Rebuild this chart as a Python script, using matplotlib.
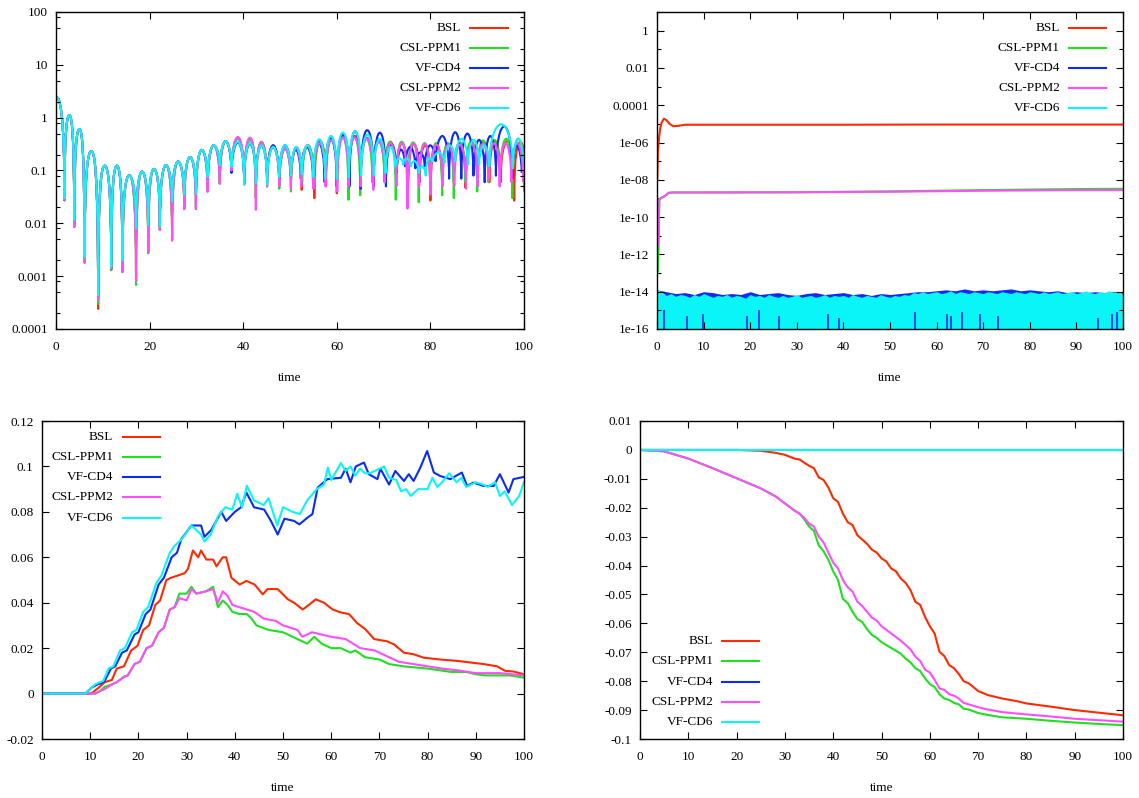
import numpy as np
import matplotlib
matplotlib.use("Agg")
import matplotlib.pyplot as plt
from matplotlib.path import Path
from matplotlib.patches import PathPatch
from matplotlib.lines import Line2D
from matplotlib.ticker import FixedLocator, FixedFormatter, NullFormatter

plt.rcParams['font.family'] = ['Liberation Serif', 'DejaVu Serif']
plt.rcParams['axes.unicode_minus'] = False

# ---------------- series / styles ----------------
labels = ['BSL', 'CSL-PPM1', 'VF-CD4', 'CSL-PPM2', 'VF-CD6']
colors = ['#ff2a00', '#1ee01e', '#0a2cf5', '#ff4dff', '#0af5f5']

# ---------------- panel 1 (log, oscillating) ----------------
p1_start_t = 0.0
p1_start_v = 2.5
p1_dip_t_early = [1.8, 3.9, 6.1, 9.0, 11.8, 14.2, 17.1, 19.7, 22.2, 24.8,
                  27.4, 29.9, 32.4, 35.0, 37.5, 40.2, 42.7, 45.1, 47.7, 50.2]
p1_peak_shared = [1.12, 0.61, 0.23, 0.123, 0.123, 0.081, 0.095, 0.107, 0.126,
                  0.148, 0.18, 0.245, 0.30, 0.36]

bsl_p1_dip_early = [0.027, 0.0085, 0.0018, 0.00024, 0.0013, 0.0012, 0.0008, 0.0028, 0.0075, 0.0048,
                    0.019, 0.019, 0.04, 0.057, 0.1, 0.055, 0.03, 0.05, 0.05, 0.05]
ppm1_p1_dip_early = [0.028, 0.0085, 0.0018, 0.0003, 0.0013, 0.0012, 0.00068, 0.0027, 0.0075, 0.0048,
                     0.019, 0.019, 0.04, 0.056, 0.1, 0.055, 0.03, 0.05, 0.045, 0.04]
cd4_p1_dip_early = [0.029, 0.011, 0.0022, 0.0004, 0.0014, 0.002, 0.008, 0.009, 0.0085, 0.025,
                    0.034, 0.036, 0.07, 0.12, 0.09, 0.055, 0.06, 0.06, 0.07, 0.08]
ppm2_p1_dip_early = [0.028, 0.0087, 0.0018, 0.00035, 0.0014, 0.0012, 0.0008, 0.0029, 0.0074, 0.0047,
                     0.0185, 0.0185, 0.04, 0.057, 0.1, 0.055, 0.018, 0.05, 0.05, 0.045]
cd6_p1_dip_early = [0.030, 0.0115, 0.0023, 0.00044, 0.0015, 0.002, 0.0081, 0.0093, 0.0087, 0.026,
                    0.035, 0.037, 0.076, 0.126, 0.117, 0.054, 0.058, 0.054, 0.076, 0.08]

bsl_p1_peak_mid = [0.42, 0.40, 0.34, 0.28, 0.26]
ppm1_p1_peak_mid = [0.40, 0.38, 0.35, 0.30, 0.26]
cd4_p1_peak_mid = [0.34, 0.32, 0.30, 0.30, 0.30]
ppm2_p1_peak_mid = [0.43, 0.42, 0.34, 0.27, 0.26]
cd6_p1_peak_mid = [0.35, 0.33, 0.30, 0.28, 0.30]

bsl_p1_dip_t_late = [52.5, 55.2, 57.7, 60.0, 62.6, 65.1, 67.7, 70.2, 72.7, 75.2,
                     77.7, 80.0, 82.5, 85.0, 87.5, 90.0, 92.6, 95.0, 97.9, 100.5]
bsl_p1_dip_v_late = [0.043, 0.030, 0.050, 0.037, 0.06, 0.06, 0.06, 0.07, 0.05, 0.027,
                     0.06, 0.027, 0.06, 0.06, 0.047, 0.06, 0.06, 0.06, 0.027, 0.05]
bsl_p1_peak_late = [0.27, 0.30, 0.36, 0.42, 0.45, 0.45, 0.42, 0.38, 0.35, 0.33,
                    0.32, 0.30, 0.30, 0.32, 0.34, 0.35, 0.36, 0.36, 0.36, 0.35]

ppm1_p1_dip_t_late = [52.6, 55.1, 57.6, 60.1, 62.5, 65.0, 67.6, 70.2, 72.6, 75.1,
                      77.5, 80.0, 82.5, 85.0, 87.5, 90.0, 92.4, 94.9, 97.5, 100.0]
ppm1_p1_dip_v_late = [0.06, 0.05, 0.06, 0.06, 0.028, 0.034, 0.06, 0.06, 0.028, 0.06,
                      0.025, 0.06, 0.034, 0.03, 0.06, 0.04, 0.06, 0.06, 0.03, 0.04]
ppm1_p1_peak_late = [0.27, 0.30, 0.33, 0.38, 0.42, 0.42, 0.40, 0.36, 0.35, 0.35,
                     0.34, 0.33, 0.33, 0.33, 0.34, 0.36, 0.37, 0.38, 0.40, 0.40]

cd4_p1_dip_t_late = [52.3, 54.9, 57.4, 60.0, 62.7, 65.1, 67.9, 70.5, 72.8, 74.6,
                     76.8, 78.8, 81.1, 84.0, 86.6, 89.2, 91.6, 94.0, 97.5, 99.5]
cd4_p1_dip_v_late = [0.07, 0.07, 0.06, 0.05, 0.05, 0.045, 0.05, 0.05, 0.09, 0.12,
                     0.11, 0.12, 0.15, 0.07, 0.07, 0.08, 0.06, 0.08, 0.07, 0.09]
cd4_p1_peak_late = [0.25, 0.28, 0.33, 0.40, 0.48, 0.55, 0.58, 0.52, 0.32, 0.25,
                    0.28, 0.22, 0.30, 0.45, 0.53, 0.50, 0.38, 0.45, 0.68, 0.30]

ppm2_p1_dip_t_late = [52.4, 55.0, 57.6, 60.1, 62.5, 65.1, 67.8, 70.3, 72.7, 75.1,
                      77.6, 80.0, 82.6, 85.1, 87.6, 90.1, 92.4, 94.8, 97.3, 99.8]
ppm2_p1_dip_v_late = [0.05, 0.045, 0.05, 0.04, 0.05, 0.05, 0.043, 0.06, 0.05, 0.019,
                      0.05, 0.035, 0.05, 0.05, 0.045, 0.05, 0.066, 0.05, 0.06, 0.06]
ppm2_p1_peak_late = [0.27, 0.30, 0.33, 0.38, 0.42, 0.42, 0.40, 0.35, 0.33, 0.33,
                     0.32, 0.32, 0.31, 0.31, 0.31, 0.32, 0.32, 0.33, 0.33, 0.33]

cd6_p1_dip_t_late = [52.5, 55.0, 57.5, 60.0, 62.6, 65.2, 67.9, 70.4, 72.5, 74.2,
                     75.8, 77.5, 79.0, 80.5, 83.0, 85.3, 88.0, 90.4, 92.6, 97.6, 100.0]
cd6_p1_dip_v_late = [0.085, 0.075, 0.07, 0.07, 0.075, 0.08, 0.08, 0.09, 0.12, 0.13,
                     0.12, 0.09, 0.08, 0.15, 0.14, 0.15, 0.13, 0.13, 0.12, 0.11, 0.10]
cd6_p1_peak_late = [0.28, 0.30, 0.39, 0.45, 0.52, 0.55, 0.48, 0.40, 0.28, 0.17,
                    0.17, 0.15, 0.12, 0.17, 0.22, 0.30, 0.40, 0.38, 0.30, 0.75, 0.40]

# ---------------- panel 2 (log, errors) ----------------
bsl_p2_t = [0.05, 0.2, 0.4, 0.7, 1.0, 1.5, 2.0, 2.7, 3.5, 4.5, 6.0, 20, 40, 60, 80, 100]
bsl_p2_v = [1e-8, 3e-7, 1.5e-6, 6e-6, 1.2e-5, 1.9e-5, 1.6e-5, 1.0e-5, 7.5e-6, 7.8e-6,
            9e-6, 9e-6, 9e-6, 9.2e-6, 9.2e-6, 9.2e-6]
ppm_p2_t = [0.15, 0.35, 0.5, 1.0, 1.6, 2.5, 3.5, 10, 30, 50, 70, 90, 100]
ppm1_p2_v = [1e-13, 3e-12, 9e-10, 1.1e-9, 1.3e-9, 2.0e-9, 2.1e-9, 2.1e-9, 2.15e-9,
             2.4e-9, 2.8e-9, 3.2e-9, 3.3e-9]
ppm2_p2_v = [3e-12, 3e-11, 9e-10, 1.1e-9, 1.3e-9, 2.0e-9, 2.1e-9, 2.1e-9, 2.15e-9,
             2.3e-9, 2.6e-9, 2.8e-9, 2.8e-9]
cd6_p2_band_t = list(range(0, 101))
cd6_p2_top_exp = [-13.9, -14.0, -14.2, -14.1, -14.25, -14.15, -14.2, -14.3, -14.15, -14.25,
                  -14.1, -14.2, -14.3, -14.2, -14.25, -14.15, -14.3, -14.2, -14.25, -14.35,
                  -14.15, -14.25, -14.2, -14.3, -14.15, -14.25, -14.3, -14.2, -14.3, -14.25,
                  -14.15, -14.3, -14.25, -14.2, -14.3, -14.25, -14.15, -14.3, -14.2, -14.25,
                  -14.2, -14.3, -14.15, -14.25, -14.3, -14.2, -14.25, -14.3, -14.15, -14.25,
                  -14.3, -14.2, -14.25, -14.15, -14.2, -14.05, -14.1, -14.0, -14.1, -14.05,
                  -14.0, -14.1, -14.05, -13.95, -14.1, -14.0, -14.05, -14.1, -14.0, -14.05,
                  -14.1, -14.0, -14.05, -14.1, -14.0, -14.05, -14.1, -14.0, -14.05, -14.1,
                  -14.0, -14.05, -14.1, -14.0, -14.1, -14.05, -14.0, -14.1, -14.05, -14.0,
                  -14.1, -14.05, -13.95, -14.05, -14.1, -14.0, -14.05, -13.95, -14.05, -14.0,
                  -14.1]
cd4_p2_band_t = list(range(0, 101, 2))
cd4_p2_top_exp = [-13.9, -14.0, -14.1, -14.05, -14.15, -14.0, -14.05, -14.15, -14.1, -14.15,
                  -14.0, -14.15, -14.1, -14.05, -14.15, -14.2, -14.1, -14.05, -14.15, -14.1,
                  -14.05, -14.15, -14.1, -14.2, -14.1, -14.15, -14.1, -14.05, -14.0, -14.0,
                  -13.95, -13.9, -13.95, -13.85, -13.95, -13.9, -13.95, -13.9, -13.85, -13.95,
                  -13.9, -13.95, -14.0, -13.95, -14.05, -14.0, -14.05, -14.0, -14.05, -14.0,
                  -14.05]
cd4_p2_streak_t = [1.6, 6.4, 9.9, 19.3, 21.9, 26.2, 36.7, 39.0, 55.3, 62.3, 63.1, 65.4,
                   69.3, 73.2, 94.6, 97.7, 98.8]
cd4_p2_streak_exp = [-15.0, -15.3, -15.2, -15.3, -15.0, -15.3, -15.2, -15.4, -15.1, -15.2,
                     -15.3, -15.1, -15.2, -15.3, -15.4, -15.2, -15.1]

# ---------------- panel 3 (linear) ----------------
bsl_p3_t = [0, 10, 10.5, 12, 13, 14.5, 15.5, 17, 18.5, 19.8, 21, 22.2, 23.5, 24.5, 25.8,
            26.8, 28.2, 29.6, 30.3, 31.3, 32.4, 33, 34.1, 35.5, 36.2, 37.5, 38.2, 39.3, 41,
            42.4, 44.1, 45.8, 46.8, 48.9, 51, 52.3, 54.1, 55.1, 56.8, 58.5, 60.3, 62, 63.7,
            65.4, 67.1, 68.9, 71.6, 73, 75.1, 77.1, 79.2, 82.6, 86.1, 88.8, 91.6, 94.4, 96.1,
            97.8, 100]
bsl_p3_v = [0, 0, 0.0005, 0.003, 0.005, 0.006, 0.011, 0.012, 0.019, 0.021, 0.028, 0.030,
            0.039, 0.041, 0.050, 0.051, 0.052, 0.053, 0.055, 0.063, 0.060, 0.063, 0.059,
            0.059, 0.056, 0.060, 0.060, 0.051, 0.048, 0.0496, 0.048, 0.0437, 0.046, 0.046,
            0.0415, 0.040, 0.037, 0.0386, 0.0415, 0.040, 0.037, 0.0357, 0.035, 0.031, 0.0283,
            0.024, 0.023, 0.0217, 0.018, 0.0173, 0.0158, 0.015, 0.0144, 0.0137, 0.013, 0.012,
            0.010, 0.0097, 0.0085]
ppm1_p3_t = [0, 11, 12, 13, 14.5, 15.5, 17, 17.8, 19.2, 20.3, 21.7, 22.8, 24.2, 25.3, 26.5,
             27.5, 28.5, 30, 31, 32, 34, 35.5, 36.5, 37.5, 38.5, 39.5, 41, 42.5, 43.5, 44.5,
             47, 50, 52, 54, 55, 56.5, 58, 60, 62, 64, 65, 67, 70, 72, 75, 80, 85, 88, 90, 92,
             95, 97, 100]
ppm1_p3_v = [0, 0, 0.001, 0.003, 0.004, 0.005, 0.0075, 0.008, 0.013, 0.014, 0.020, 0.021,
             0.027, 0.029, 0.037, 0.038, 0.044, 0.044, 0.047, 0.044, 0.045, 0.047, 0.038,
             0.041, 0.039, 0.036, 0.035, 0.035, 0.033, 0.030, 0.028, 0.027, 0.025, 0.023,
             0.022, 0.025, 0.022, 0.020, 0.020, 0.018, 0.019, 0.016, 0.015, 0.013, 0.012,
             0.011, 0.0095, 0.0095, 0.0085, 0.008, 0.008, 0.008, 0.007]
cd4_p3_t = [0, 9, 10.3, 11.5, 12.2, 13, 14.3, 15.2, 16.6, 17.6, 19.2, 20, 21.5, 22.5, 24.2,
            25.3, 26.9, 28, 28.9, 31, 33, 33.7, 35.1, 37.2, 38.2, 40, 41.3, 42.4, 44, 46.1,
            47.5, 48.9, 50.3, 52.3, 53.4, 55.1, 56.1, 57.2, 59.2, 62, 63, 64, 65.1, 66.8,
            67.8, 69.6, 70.2, 72, 73.3, 75.1, 76.1, 77.1, 78.5, 79.9, 81.3, 82.6, 84.7, 87.1,
            88.2, 89.5, 91.6, 93.7, 95, 96.8, 97.8, 100]
cd4_p3_v = [0, 0, 0.0026, 0.004, 0.0045, 0.0055, 0.011, 0.012, 0.018, 0.019, 0.026, 0.027,
            0.035, 0.037, 0.048, 0.051, 0.060, 0.062, 0.068, 0.074, 0.074, 0.069, 0.072,
            0.080, 0.076, 0.080, 0.082, 0.0885, 0.082, 0.081, 0.076, 0.070, 0.077, 0.076,
            0.0745, 0.0775, 0.079, 0.0907, 0.0944, 0.095, 0.099, 0.093, 0.100, 0.1017,
            0.0966, 0.0944, 0.099, 0.092, 0.098, 0.0936, 0.0966, 0.0936, 0.0995, 0.1068,
            0.0973, 0.0958, 0.0944, 0.0973, 0.0914, 0.0929, 0.0914, 0.0914, 0.0966, 0.0885,
            0.0944, 0.0954]
ppm2_p3_t = [0, 11, 13, 14.5, 15.5, 17, 17.8, 19.2, 20.3, 21.7, 22.8, 24.2, 25.3, 26.5,
             27.5, 28.5, 30, 31, 32, 34, 35.5, 36.5, 37.5, 38.5, 39.5, 41, 42.5, 44, 46, 48.5,
             50, 53, 54, 56, 58, 60, 63, 64.5, 66, 69, 71, 74, 77, 80, 83, 87, 90, 95, 100]
ppm2_p3_v = [0, 0, 0.002, 0.004, 0.005, 0.0072, 0.008, 0.013, 0.014, 0.020, 0.021, 0.027,
             0.029, 0.037, 0.038, 0.042, 0.041, 0.046, 0.044, 0.045, 0.046, 0.040, 0.045,
             0.043, 0.039, 0.038, 0.037, 0.036, 0.033, 0.032, 0.030, 0.028, 0.025, 0.027,
             0.026, 0.025, 0.024, 0.022, 0.020, 0.019, 0.017, 0.014, 0.013, 0.012, 0.011,
             0.010, 0.009, 0.009, 0.008]
cd6_p3_t = [0, 9, 10, 11, 12, 12.7, 13.8, 14.8, 16.2, 17.2, 18.7, 19.6, 21, 22, 23.8, 24.8,
            26.5, 27.5, 29, 31, 33, 33.7, 35, 36.5, 38, 39.5, 40.5, 41.5, 42.5, 44, 46, 47,
            48.8, 50, 52, 53.5, 55, 57, 58.5, 59.3, 60, 62, 63, 64, 65, 66, 67, 68, 70, 71,
            72, 73.5, 74.5, 75.5, 76.5, 78, 80, 81, 82, 83, 84.5, 86, 87, 88, 90, 91.5, 92.5,
            94, 95, 96, 97.5, 99, 100]
cd6_p3_v = [0, 0, 0.002, 0.004, 0.005, 0.0055, 0.011, 0.012, 0.019, 0.020, 0.027, 0.028,
            0.036, 0.038, 0.049, 0.052, 0.062, 0.065, 0.068, 0.074, 0.070, 0.067, 0.070,
            0.078, 0.082, 0.081, 0.088, 0.082, 0.0915, 0.085, 0.083, 0.086, 0.074, 0.082,
            0.080, 0.079, 0.085, 0.090, 0.092, 0.0995, 0.094, 0.1015, 0.098, 0.100, 0.096,
            0.099, 0.097, 0.097, 0.099, 0.100, 0.095, 0.094, 0.089, 0.090, 0.087, 0.090,
            0.090, 0.095, 0.091, 0.093, 0.097, 0.093, 0.095, 0.091, 0.093, 0.092, 0.091,
            0.093, 0.087, 0.089, 0.083, 0.087, 0.093]

# ---------------- panel 4 (linear) ----------------
bsl_p4_t = [0, 20, 25, 28, 30, 32, 33, 35, 36, 37, 38, 39, 40, 41, 42, 43, 44, 45, 46, 47,
            48, 49, 50, 51, 52, 53, 54, 55, 56, 57, 58, 59, 60, 61, 62, 63, 64, 65, 66, 67,
            68, 69, 70, 72, 75, 78, 80, 85, 90, 95, 100]
bsl_p4_v = [0, 0, -0.0003, -0.001, -0.0017, -0.003, -0.0033, -0.0055, -0.0063, -0.0095,
            -0.0104, -0.013, -0.0167, -0.018, -0.022, -0.025, -0.026, -0.0295, -0.031, -0.0325,
            -0.0345, -0.0355, -0.0375, -0.0386, -0.041, -0.042, -0.0445, -0.046, -0.0485, -0.0525,
            -0.0536, -0.0577, -0.061, -0.0635, -0.0698, -0.0713, -0.0744, -0.0755, -0.0775, -0.080,
            -0.0807, -0.082, -0.0834, -0.0848, -0.086, -0.0869, -0.0877, -0.0888, -0.090, -0.0909,
            -0.0918]
ppm_p4_t = [0, 5, 10, 15, 20, 25, 28, 30, 32, 33, 34, 35, 36, 37, 38, 39, 40, 41, 42, 43,
            44, 45, 46, 47, 48, 49, 50, 52, 54, 55, 56, 57, 58, 59, 60, 61, 62, 63, 64, 65,
            66, 67, 68, 70, 72, 75, 80, 85, 90, 95, 100]
ppm1_p4_v = [0, -0.0005, -0.003, -0.0063, -0.0098, -0.0133, -0.016, -0.0185, -0.021, -0.022,
             -0.024, -0.0265, -0.028, -0.033, -0.035, -0.038, -0.042, -0.045, -0.0515, -0.053,
             -0.056, -0.0585, -0.0595, -0.062, -0.064, -0.065, -0.0665, -0.0685, -0.0705, -0.0722,
             -0.0735, -0.0755, -0.0765, -0.079, -0.081, -0.082, -0.0845, -0.086, -0.0865, -0.0875,
             -0.088, -0.0895, -0.0898, -0.091, -0.0917, -0.0925, -0.093, -0.0937, -0.0943, -0.0948,
             -0.0952]
ppm2_p4_v = [0, -0.0005, -0.003, -0.0063, -0.0098, -0.0133, -0.016, -0.0185, -0.021, -0.022,
             -0.0235, -0.0255, -0.0265, -0.030, -0.032, -0.0355, -0.039, -0.041, -0.045, -0.0475,
             -0.049, -0.0525, -0.054, -0.056, -0.058, -0.059, -0.061, -0.0635, -0.066, -0.0675,
             -0.069, -0.0715, -0.073, -0.076, -0.077, -0.0795, -0.0825, -0.083, -0.0845, -0.085,
             -0.086, -0.0875, -0.088, -0.089, -0.0898, -0.0907, -0.0915, -0.0922, -0.093, -0.0935,
             -0.094]
vf_p4_t = [0, 100]
cd4_p4_v = [0, 0]
cd6_p4_v = [0, 0]

# ---------------- ticks ----------------
p1_yticks = [1e-4, 1e-3, 1e-2, 1e-1, 1, 10, 100]
p1_ylabels = ['0.0001', '0.001', '0.01', '0.1', '1', '10', '100']
p2_yticks = [1e-16, 1e-14, 1e-12, 1e-10, 1e-8, 1e-6, 1e-4, 1e-2, 1]
p2_ylabels = ['1e-16', '1e-14', '1e-12', '1e-10', '1e-08', '1e-06', '0.0001', '0.01', '1']
p3_yticks = [-0.02, 0, 0.02, 0.04, 0.06, 0.08, 0.1, 0.12]
p3_ylabels = ['-0.02', '0', '0.02', '0.04', '0.06', '0.08', '0.1', '0.12']
p4_yticks = [-0.1, -0.09, -0.08, -0.07, -0.06, -0.05, -0.04, -0.03, -0.02, -0.01, 0, 0.01]
p4_ylabels = ['-0.1', '-0.09', '-0.08', '-0.07', '-0.06', '-0.05', '-0.04', '-0.03',
              '-0.02', '-0.01', '0', '0.01']
x20_ticks = [0, 20, 40, 60, 80, 100]
x10_ticks = [0, 10, 20, 30, 40, 50, 60, 70, 80, 90, 100]

# =====================================================
W, H = 1139, 798
FS = 9.5
LW = 1.5
fig = plt.figure(figsize=(W / 100, H / 100), dpi=100)


def axes_px(left, top, right, bottom):
    return fig.add_axes([left / W, 1 - bottom / H, (right - left) / W, (bottom - top) / H])


def style(ax, xticks, yticks, ylabels, minor=None):
    ax.xaxis.set_major_locator(FixedLocator(xticks))
    ax.xaxis.set_major_formatter(FixedFormatter([str(x) for x in xticks]))
    ax.yaxis.set_major_locator(FixedLocator(yticks))
    ax.yaxis.set_major_formatter(FixedFormatter(ylabels))
    if minor is not None:
        ax.yaxis.set_minor_locator(FixedLocator(minor))
        ax.yaxis.set_minor_formatter(NullFormatter())
    else:
        ax.yaxis.set_minor_locator(FixedLocator([]))
    ax.xaxis.set_minor_locator(FixedLocator([]))
    ax.tick_params(which='major', direction='in', length=5, width=0.8, top=True, right=True,
                   labelsize=FS)
    ax.tick_params(which='minor', direction='in', length=2.6, width=0.8, top=True, right=True)
    ax.tick_params(axis='x', pad=9)
    ax.tick_params(axis='y', pad=6)
    for s in ax.spines.values():
        s.set_linewidth(1.0)
    ax.set_xlabel('time', fontsize=FS, labelpad=13)


def legend_px(text_right, x0, x1, rows):
    for lab, col, y in zip(labels, colors, rows):
        fig.text(text_right / W, 1 - y / H, lab, ha='right', va='center', fontsize=FS)
        fig.add_artist(Line2D([x0 / W, x1 / W], [1 - y / H, 1 - y / H],
                              transform=fig.transFigure, color=col, lw=LW))


def osc_path(t0, v0, dip_t, dip_v, peak_v, k=0.55, c=0.45):
    verts = [(t0, v0)]
    codes = [Path.MOVETO]
    h = dip_t[0] - t0
    verts += [(t0 + c * h, v0), (dip_t[0], max(v0 * k, np.sqrt(v0 * dip_v[0]))), (dip_t[0], dip_v[0])]
    codes += [Path.CURVE4] * 3
    for i in range(1, len(dip_t)):
        ta, tb = dip_t[i - 1], dip_t[i]
        p = peak_v[i - 1]
        tm = 0.5 * (ta + tb)
        hh = tm - ta
        ca = max(p * k, np.sqrt(p * dip_v[i - 1]))
        cb = max(p * k, np.sqrt(p * dip_v[i]))
        verts += [(ta, ca), (tm - c * hh, p), (tm, p),
                  (tm + c * hh, p), (tb, cb), (tb, dip_v[i])]
        codes += [Path.CURVE4] * 6
    return Path(verts, codes)


# ---------------- Panel 1 ----------------
ax1 = axes_px(56, 12, 524, 329)
ax1.set_yscale('log')
ax1.set_xlim(0, 100)
ax1.set_ylim(1e-4, 100)
p1_sets = [
    (bsl_p1_dip_early, bsl_p1_peak_mid, bsl_p1_dip_t_late, bsl_p1_dip_v_late, bsl_p1_peak_late),
    (ppm1_p1_dip_early, ppm1_p1_peak_mid, ppm1_p1_dip_t_late, ppm1_p1_dip_v_late, ppm1_p1_peak_late),
    (cd4_p1_dip_early, cd4_p1_peak_mid, cd4_p1_dip_t_late, cd4_p1_dip_v_late, cd4_p1_peak_late),
    (ppm2_p1_dip_early, ppm2_p1_peak_mid, ppm2_p1_dip_t_late, ppm2_p1_dip_v_late, ppm2_p1_peak_late),
    (cd6_p1_dip_early, cd6_p1_peak_mid, cd6_p1_dip_t_late, cd6_p1_dip_v_late, cd6_p1_peak_late),
]
for (de, pm, dtl, dvl, pl), col in zip(p1_sets, colors):
    dip_t = p1_dip_t_early + dtl
    dip_v = de + dvl
    peaks = p1_peak_shared + pm + pl
    path = osc_path(p1_start_t, p1_start_v, dip_t, dip_v, peaks)
    ax1.add_patch(PathPatch(path, transform=ax1.transData, fill=False, edgecolor=col,
                            lw=LW, joinstyle='round'))
p1_minor = [m * 10.0 ** e for e in range(-4, 2) for m in (2, 5, 8)]
style(ax1, x20_ticks, p1_yticks, p1_ylabels, minor=p1_minor)
legend_px(461, 470, 508, [28, 48, 68, 88, 108])

# ---------------- Panel 2 ----------------
ax2 = axes_px(657, 12, 1123, 329)
ax2.set_yscale('log')
ax2.set_xlim(0, 100)
ax2.set_ylim(1e-16, 10)
ax2.plot(bsl_p2_t, bsl_p2_v, color=colors[0], lw=LW)
ax2.plot(ppm_p2_t, ppm1_p2_v, color=colors[1], lw=LW)
ax2.fill_between(cd4_p2_band_t, 1e-17, 10.0 ** np.array(cd4_p2_top_exp), color=colors[2], lw=0)
ax2.plot(ppm_p2_t, ppm2_p2_v, color=colors[3], lw=LW)
ax2.fill_between(cd6_p2_band_t, 1e-17, 10.0 ** np.array(cd6_p2_top_exp), color=colors[4], lw=0)
ax2.vlines(cd4_p2_streak_t, 1e-17, 10.0 ** np.array(cd4_p2_streak_exp), color=colors[2], lw=1.2)
p2_minor = [10.0 ** e for e in range(-15, 2, 2)]
style(ax2, x10_ticks, p2_yticks, p2_ylabels, minor=p2_minor)
legend_px(1060, 1069, 1106, [28, 48, 68, 88, 108])

# ---------------- Panel 3 ----------------
ax3 = axes_px(42, 421, 524, 739)
ax3.set_xlim(0, 100)
ax3.set_ylim(-0.02, 0.12)
ax3.plot(bsl_p3_t, bsl_p3_v, color=colors[0], lw=LW)
ax3.plot(ppm1_p3_t, ppm1_p3_v, color=colors[1], lw=LW)
ax3.plot(cd4_p3_t, cd4_p3_v, color=colors[2], lw=LW)
ax3.plot(ppm2_p3_t, ppm2_p3_v, color=colors[3], lw=LW)
ax3.plot(cd6_p3_t, cd6_p3_v, color=colors[4], lw=LW)
style(ax3, x10_ticks, p3_yticks, p3_ylabels)
legend_px(113, 123, 160, [437, 457, 477, 497, 518])

# ---------------- Panel 4 ----------------
ax4 = axes_px(640, 421, 1123, 739)
ax4.set_xlim(0, 100)
ax4.set_ylim(-0.1, 0.01)
ax4.plot(bsl_p4_t, bsl_p4_v, color=colors[0], lw=LW)
ax4.plot(ppm_p4_t, ppm1_p4_v, color=colors[1], lw=LW)
ax4.plot(vf_p4_t, cd4_p4_v, color=colors[2], lw=LW)
ax4.plot(ppm_p4_t, ppm2_p4_v, color=colors[3], lw=LW)
ax4.plot(vf_p4_t, cd6_p4_v, color=colors[4], lw=LW)
style(ax4, x10_ticks, p4_yticks, p4_ylabels)
legend_px(713, 722, 759, [641, 661, 682, 702, 722])

fig.savefig('out.png', dpi=100)
